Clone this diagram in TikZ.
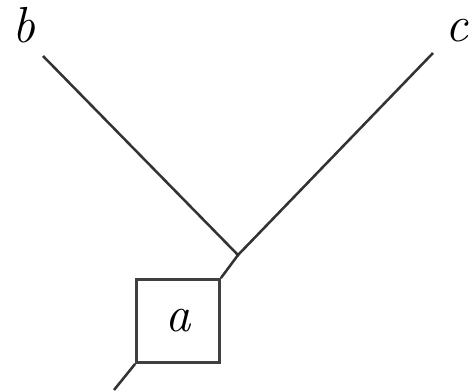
\documentclass[tikz,border=0pt]{standalone}
\usepackage{fontspec}
\usepackage{tikz}
\usetikzlibrary{positioning,calc}

\begin{document}
\begin{tikzpicture}[x=.75pt, y=-.75pt, every node/.style={font=\fontsize{38}{40}\selectfont\itshape,inner sep=0pt}, edge/.style={line width=1.9pt,black!80}]
  \useasboundingbox (0,0) rectangle (471,390);
  \node[draw,rectangle,line width=2.3pt,draw=black!75,minimum size=62pt] (a) at (178,321) {a};
  \node (b) at (24,25) {b};
  \node (c) at (457,31) {c};
  \coordinate (j) at (238,255);
  \coordinate (bend) at (43,56);
  \coordinate (cend) at (433,53);
  \coordinate (tail) at (114,390);
  \draw[edge] (bend)--(j)--(cend);
  \draw[edge] (j)--(a.north east);
  \draw[edge] (a.south west)--(tail);
\end{tikzpicture}
\end{document}
